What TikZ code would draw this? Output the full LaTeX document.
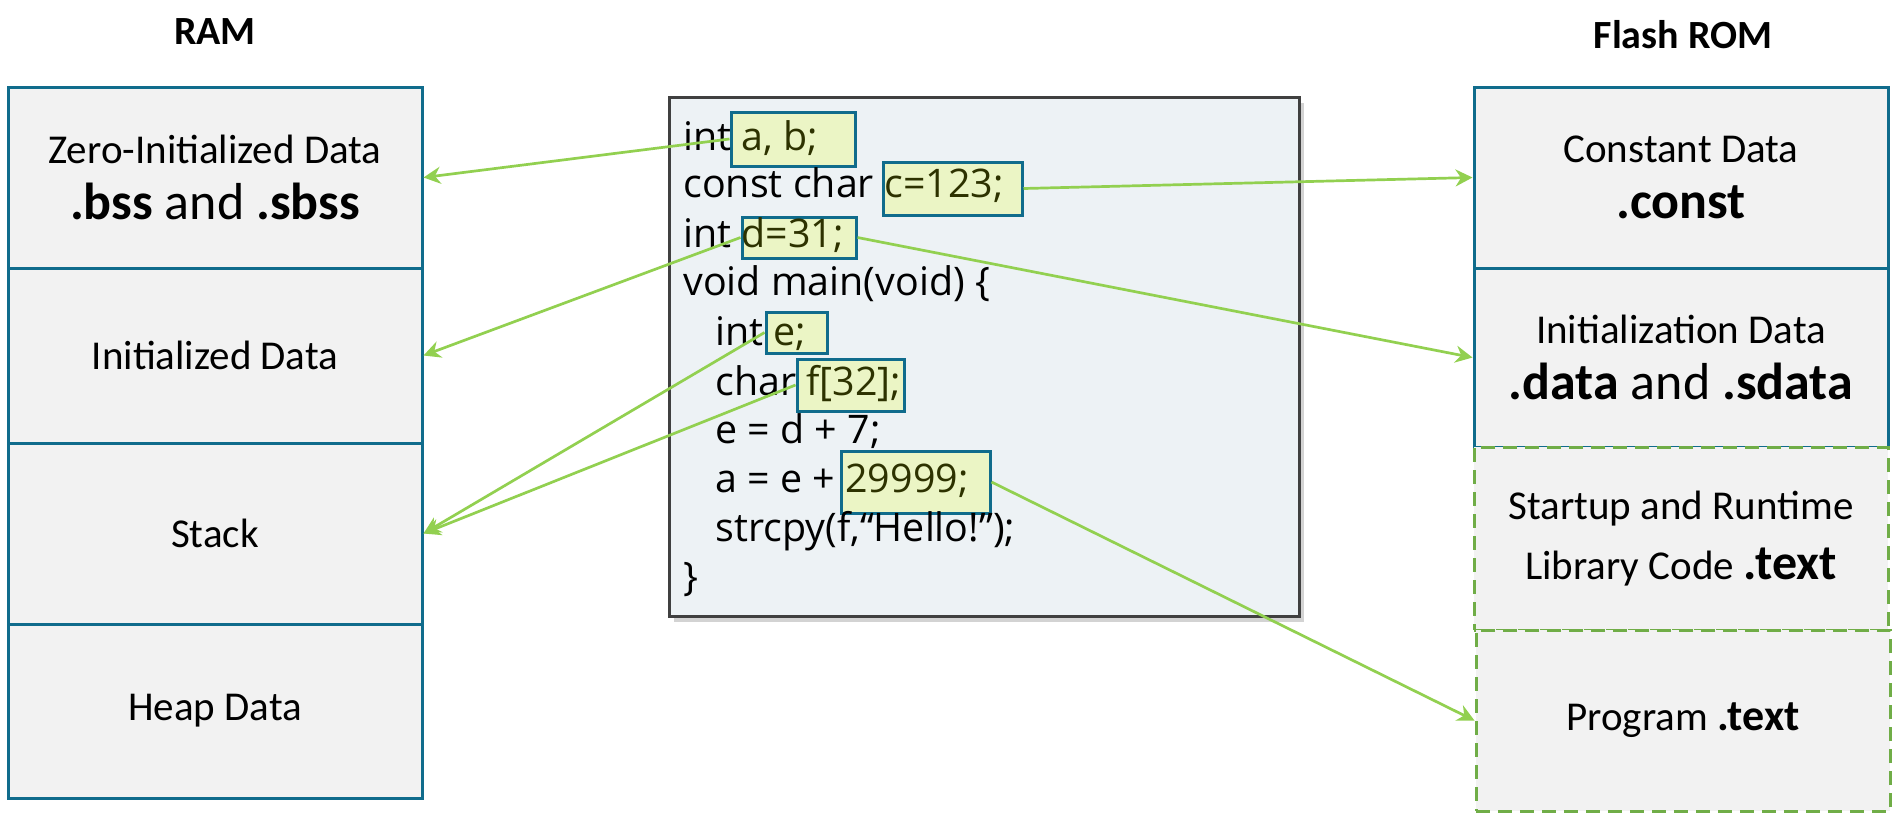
\documentclass[tikz,border=0pt]{standalone}
\usepackage{fontspec}
\setmainfont{Carlito}
\newfontfamily\codefont{Open Sans}
\usetikzlibrary{arrows.meta,shadows}
\definecolor{tealb}{RGB}{16,108,140}
\definecolor{secfill}{RGB}{242,242,242}
\definecolor{dashgreen}{RGB}{112,173,71}
\definecolor{arrgreen}{RGB}{146,208,80}
\definecolor{codefill}{RGB}{237,242,245}
\definecolor{codeline}{RGB}{64,64,64}
\definecolor{hlfill}{RGB}{235,245,197}
\definecolor{olivetext}{RGB}{45,50,0}
\begin{document}
\begin{tikzpicture}[x=0.5pt,y=-0.5pt,
  sect/.style={draw=tealb, line width=1.5pt, fill=secfill, minimum width=207pt,
    inner sep=0pt, align=center, font=\fontsize{20.5}{28}\selectfont},
  dsect/.style={sect, draw=dashgreen, dash pattern=on 7pt off 4pt},
  ttl/.style={font=\fontsize{20}{24}\selectfont\bfseries, inner sep=0pt},
  codebox/.style={draw=codeline, line width=1.5pt, fill=codefill,
    minimum width=315pt, minimum height=259.5pt, inner sep=0pt,
    drop shadow={shadow xshift=2.5pt, shadow yshift=-3pt, opacity=0.35}},
  hl/.style={draw=tealb, line width=1.5pt, fill=hlfill, inner sep=0pt},
  codetxt/.style={anchor=base west, inner sep=0pt, font=\codefont\fontsize{19.7}{24}\selectfont},
  arr/.style={draw=arrgreen, line width=1.35pt, -{Stealth[length=8.5pt,width=8.5pt]}}
]
\useasboundingbox (0,0) rectangle (1904,821);

% titles
\node[ttl] (tram) at (215,32) {RAM};
\node[ttl] (trom) at (1683,35) {Flash ROM};

% RAM sections
\node[sect, minimum height=90.5pt] (ramz) at (215,177.5)
  {Zero-Initialized Data\\{\fontsize{26}{28}\selectfont\textbf{.bss} and \textbf{.sbss}}};
\node[sect, minimum height=87.5pt] (rami) at (215,355.5) {Initialized Data};
\node[sect, minimum height=90.5pt] (rams) at (215,533.5) {Stack};
\node[sect, minimum height=87pt] (ramh) at (215,711) {Heap Data};

% Flash ROM sections
\node[sect, minimum height=90.5pt] (romc) at (1681,177.5)
  {Constant Data\\{\fontsize{26}{28}\selectfont\textbf{.const}}};
\node[sect, minimum height=89.5pt] (romi) at (1681,357.5)
  {Initialization Data\\{\fontsize{26}{28}\selectfont\textbf{.data} and \textbf{.sdata}}};
\node[dsect, minimum height=91.5pt] (roms) at (1681,538.5)
  {Startup and Runtime\\[2pt]Library Code {\fontsize{25}{28}\selectfont\textbf{.text}}};
\node[dsect, minimum height=90.5pt] (romp) at (1683,720.5)
  {Program {\fontsize{22}{28}\selectfont\textbf{.text}}};

% code box
\node[codebox] (code) at (984,356.5) {};

% highlight boxes
\node[hl, minimum width=62pt, minimum height=27pt] (hab) at (793,139) {};
\node[hl, minimum width=69.5pt, minimum height=26.5pt] (hc) at (952.5,188.5) {};
\node[hl, minimum width=57pt, minimum height=20.5pt] (hd) at (799,237.5) {};
\node[hl, minimum width=30.5pt, minimum height=20.5pt] (he) at (796.5,332.5) {};
\node[hl, minimum width=53.5pt, minimum height=26pt] (hf) at (850.5,385) {};
\node[hl, minimum width=74.5pt, minimum height=31pt] (h9) at (915.5,482) {};

% code lines
\node[codetxt] (l1) at (683,150) {int \textcolor{olivetext}{a, b;}};
\node[codetxt] (l2) at (683,197) {const char \textcolor{olivetext}{c=123;}};
\node[codetxt] (l3) at (683,247) {int \textcolor{olivetext}{d=31;}};
\node[codetxt] (l4) at (683,295) {void main(void) \{};
\node[codetxt] (l5) at (715,345) {int \textcolor{olivetext}{e;}};
\node[codetxt] (l6) at (715,395) {char \textcolor{olivetext}{f[32];}};
\node[codetxt] (l7) at (715,443) {e = d + 7;};
\node[codetxt] (l8) at (715,492) {a = e + \textcolor{olivetext}{29999;}};
\node[codetxt] (l9) at (715,541) {strcpy(f,“Hello!”);};
\node[codetxt] (l10) at (683,590) {\}};

% connectors
\draw[arr] (hab.west) -- (ramz.east);
\draw[arr] (hc.east) -- (romc.west);
\draw[arr] (hd.east) -- (romi.west);
\draw[arr] (hd.west) -- (rami.east);
\draw[arr] (he.west) -- (rams.east);
\draw[arr] (hf.west) -- (rams.east);
\draw[arr] (h9.east) -- (romp.west);
\end{tikzpicture}
\end{document}
